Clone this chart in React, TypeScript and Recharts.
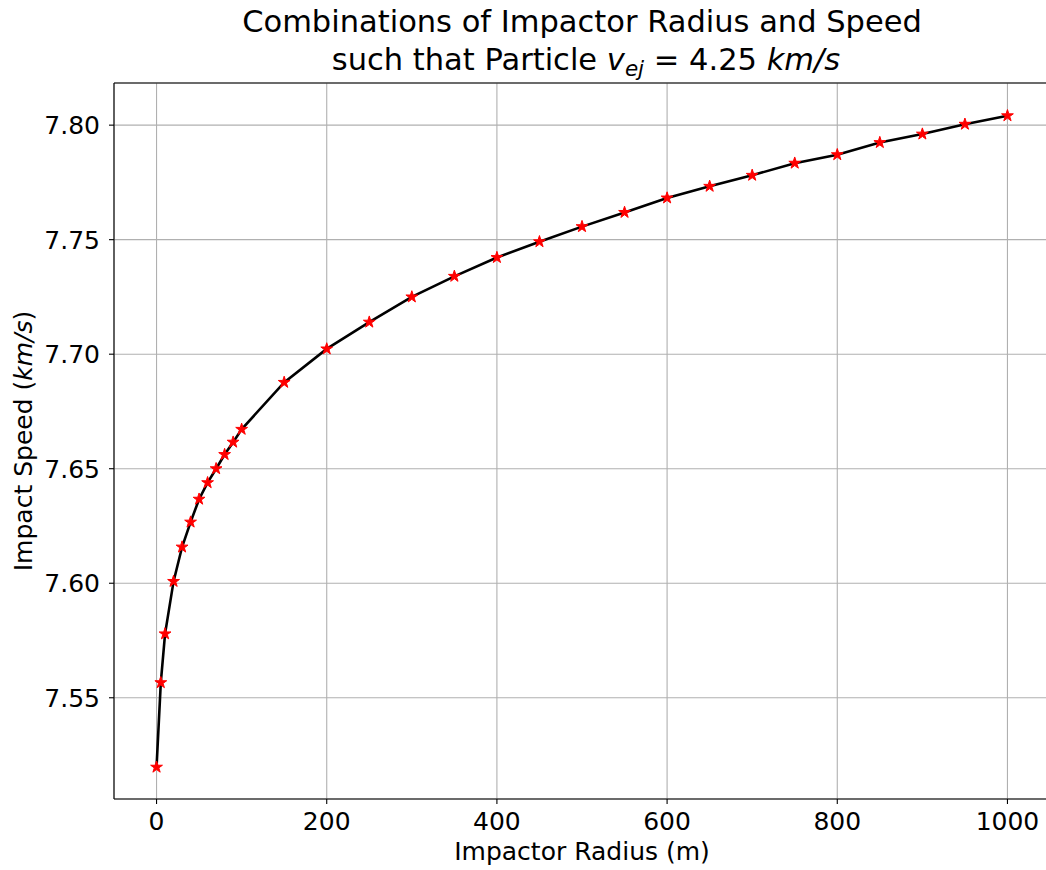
import { LineChart, Line, XAxis, YAxis, CartesianGrid, ReferenceLine } from "recharts";

const radii = [0, 5, 10, 20, 30, 40, 50, 60, 70, 80, 90, 100, 150, 200, 250, 300, 350, 400, 450, 500, 550, 600, 650, 700, 750, 800, 850, 900, 950, 1000];
const speeds = [
  7.5197, 7.5566, 7.5779, 7.6008, 7.6158, 7.6267, 7.6367, 7.6439, 7.65, 7.6562, 7.6616, 7.6672,
  7.6877, 7.7023, 7.714, 7.725, 7.734, 7.7422, 7.7491, 7.7557, 7.7619, 7.7682, 7.7733, 7.7781,
  7.7834, 7.7871, 7.7924, 7.7961, 7.8004, 7.8041,
];
const xTicks = [0, 200, 400, 600, 800, 1000];
const yTicks = [7.55, 7.6, 7.65, 7.7, 7.75, 7.8];

const data = radii.map((r, i) => ({ r, v: speeds[i] }));

const X_MIN = -50;
const X_MAX = 1050;
const Y_MIN = 7.5058;
const Y_MAX = 7.8184;

const FONT = "DejaVu Sans";

// matplotlib-style '*' marker
const StarDot = (props: any) => {
  const { cx, cy, index } = props;
  if (cx == null || cy == null) return null;
  const R = 6.2;
  const pts: string[] = [];
  for (let i = 0; i < 10; i++) {
    const a = ((-90 + i * 36) * Math.PI) / 180;
    const rr = i % 2 ? R * 0.382 : R;
    pts.push(`${cx + rr * Math.cos(a)},${cy + rr * Math.sin(a)}`);
  }
  return <polygon key={index} points={pts.join(" ")} fill="#ff0000" stroke="#ff0000" strokeWidth={1} />;
};

export default function App() {
  return (
    <div style={{ position: "absolute", left: 0, top: 0, width: 1046, height: 870, overflow: "hidden", background: "#fff" }}>
      <LineChart width={1050} height={870} data={data} margin={{ top: 83, right: 0, bottom: 0, left: 0 }}>
        <CartesianGrid stroke="#b0b0b0" strokeWidth={1.1} />
        <XAxis
          dataKey="r"
          type="number"
          domain={[X_MIN, X_MAX]}
          ticks={xTicks}
          height={71}
          tickSize={5}
          tickMargin={8}
          axisLine={{ stroke: "#000", strokeWidth: 1.1 }}
          tickLine={{ stroke: "#000", strokeWidth: 1.1 }}
          tick={{ fill: "#000", fontSize: 25, fontFamily: FONT }}
        />
        <YAxis
          type="number"
          domain={[Y_MIN, Y_MAX]}
          ticks={yTicks}
          width={114}
          tickSize={5}
          tickMargin={9}
          tickFormatter={(v: number) => v.toFixed(2)}
          axisLine={{ stroke: "#000", strokeWidth: 1.1 }}
          tickLine={{ stroke: "#000", strokeWidth: 1.1 }}
          tick={{ fill: "#000", fontSize: 25, fontFamily: FONT }}
        />
        <ReferenceLine y={Y_MAX} stroke="#000" strokeWidth={1.1} />
        <Line
          dataKey="v"
          type="linear"
          stroke="#000"
          strokeWidth={2.6}
          dot={StarDot}
          activeDot={false}
          isAnimationActive={false}
        />
      </LineChart>
      <svg
        width={1046}
        height={870}
        style={{ position: "absolute", left: 0, top: 0, pointerEvents: "none" }}
        fontFamily={FONT}
      >
        <text x={582} y={32} textAnchor="middle" fontSize={30.5} fill="#000">
          Combinations of Impactor Radius and Speed
        </text>
        <text x={586} y={70} textAnchor="middle" fontSize={30.5} fill="#000">
          {"such that Particle "}
          <tspan fontStyle="italic">v</tspan>
          <tspan fontStyle="italic" fontSize={21.5} dy={6}>ej</tspan>
          <tspan dy={-6}>{" = 4.25 "}</tspan>
          <tspan fontStyle="italic">km/s</tspan>
        </text>
        <text x={582} y={860} textAnchor="middle" fontSize={25} fill="#000">
          Impactor Radius (m)
        </text>
        <text x={32} y={441} transform="rotate(-90 32 441)" textAnchor="middle" fontSize={25} fill="#000">
          {"Impact Speed ("}
          <tspan fontStyle="italic">km/s</tspan>
          {")"}
        </text>
      </svg>
    </div>
  );
}
